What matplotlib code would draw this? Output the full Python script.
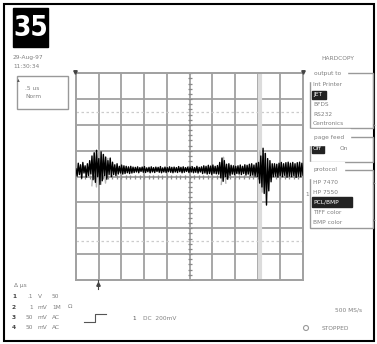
import matplotlib.pyplot as plt
import matplotlib.patches as patches
import numpy as np

# trace values in divisions (screen centre = 0), 200 samples across 10 div
trace_v = [0.30, 0.02, 0.52, 0.08, 0.46, -0.06, 0.55, 0.14, 0.42, -0.02, 0.50, 0.04, 0.62, 0.10,
           0.80, -0.12, 0.92, -0.22, 1.02, 0.00, 0.70, -0.30, 0.96, -0.16, 0.86, 0.04, 0.76, -0.10,
           0.62, 0.08, 0.72, 0.00, 0.56,
           0.08, 0.46, 0.04, 0.50, 0.10, 0.40, 0.14, 0.45, 0.10, 0.42, 0.12, 0.40, 0.15, 0.38, 0.12,
           0.40, 0.14, 0.37,
           0.16, 0.36, 0.18, 0.38, 0.15, 0.35, 0.20, 0.37, 0.17, 0.39, 0.16, 0.34, 0.19, 0.36, 0.15, 0.38,
           0.18, 0.35, 0.16, 0.37, 0.20, 0.36, 0.17, 0.39, 0.15, 0.34, 0.18, 0.37, 0.16, 0.35, 0.19, 0.38,
           0.17, 0.36, 0.15, 0.37, 0.18, 0.35, 0.16, 0.39, 0.19, 0.36, 0.15, 0.38, 0.17, 0.35, 0.20, 0.37,
           0.16, 0.36, 0.18, 0.38, 0.15, 0.35, 0.17, 0.40, 0.14, 0.36, 0.18, 0.38, 0.12, 0.42, 0.14, 0.40,
           0.10, 0.44, 0.12, 0.41, 0.09, 0.45, 0.13, 0.40, 0.11, 0.43, 0.10,
           0.55, -0.05, 0.72, -0.18, 0.62, 0.00, 0.48, -0.10, 0.50, 0.05, 0.44, 0.10, 0.42, 0.08, 0.40,
           0.12, 0.42, 0.10, 0.45, 0.08, 0.40, 0.12, 0.46, 0.06, 0.44, 0.10, 0.48, 0.04, 0.50, 0.06,
           0.45, 0.02, 0.52, 0.00, 0.55,
           -0.25, 0.80, -0.40, 1.10, -0.65, 0.90, -1.10, 0.70, -0.55, 0.62, -0.20, 0.50,
           0.00, 0.50, 0.02, 0.48, -0.02, 0.52, 0.04, 0.55, 0.00, 0.50, 0.05, 0.54, -0.02, 0.56,
           0.02, 0.52, 0.00, 0.55, 0.04, 0.50, -0.03, 0.54, 0.02, 0.56, 0.00, 0.52, 0.06]
trace_t = np.linspace(0, 10, len(trace_v))

# lighter overlapping trace in the bursts (None = gap between bursts)
ghost_t = [0.7, 0.8, 0.9, 1.0, 1.1, 1.2, 1.3, 1.4, None, 6.4, 6.5, 6.6, None, 8.1, 8.2, 8.3, 8.4]
ghost_v = [-0.35, 0.95, -0.40, 1.05, -0.30, 0.85, -0.25, 0.70, None, -0.30, 0.75, -0.25, None,
           1.00, -0.60, 0.90, -0.45]

cursor_x = 8.1
ref_levels = [2.5, -2.5]

out_to = ['Int Printer', 'JET', 'BFDS', 'RS232', 'Centronics']
protocol = ['HP 7470', 'HP 7550', 'PCL/BMP', 'TIFF color', 'BMP color']
chan_rows = [['1', '.1', 'V', '50'], ['2', '1', 'mV', '1M'], ['3', '50', 'mV', 'AC'], ['4', '50', 'mV', 'AC']]

W, H = 377, 344
fig = plt.figure(figsize=(W / 100, H / 100), dpi=100)

# scope screen
ax = fig.add_axes([76 / W, 1 - 280 / H, 227 / W, 206.7 / H])
ax.set_xlim(0, 10)
ax.set_ylim(-4, 4)
ax.set_xticks([])
ax.set_yticks([])
grid_c = '#a0a0a0'
for s in ax.spines.values():
    s.set_color(grid_c)
    s.set_linewidth(1.4)
for k in range(1, 10):
    ax.axvline(k, color=grid_c, lw=1.3, zorder=1)
for k in range(-3, 4):
    ax.axhline(k, color=grid_c, lw=1.3, zorder=1)
for lv in ref_levels:
    ax.axhline(lv, color='#cccccc', lw=0.9, ls=(0, (2, 2)), zorder=1)
ax.axvline(cursor_x, color='#dcdcdc', lw=3, zorder=1)
ticks = np.arange(-4, 4.01, 0.2)
ax.plot([5] * len(ticks), ticks, ls='none', marker='_', ms=3.5, color='#888888', mew=0.9)
ax.plot(np.arange(0, 10.01, 0.2), [0] * 51, ls='none', marker='|', ms=3.5, color='#888888', mew=0.9)
ghost_tf = np.array(ghost_t, dtype=float)
ghost_vf = np.array(ghost_v, dtype=float)
ax.plot(ghost_tf, ghost_vf, color='#b5b5b5', lw=1.0, zorder=2)
ax.plot(trace_t, trace_v, color='black', lw=1.0, zorder=3)

# overlay for all the annotations, in pixel units
ov = fig.add_axes([0, 0, 1, 1], facecolor='none')
ov.set_xlim(0, W)
ov.set_ylim(H, 0)
ov.axis('off')
ov.add_patch(patches.Rectangle((3.5, 3.5), W - 7, H - 7, fill=False, ec='black', lw=1.5))
ov.add_patch(patches.Rectangle((13, 8), 35, 39, color='black'))
ov.text(30.5, 28, '35', color='white', fontsize=20, fontweight='bold', ha='center', va='center',
        family='DejaVu Sans', fontstretch='condensed')

tc = '#808080'
fs = 4.2
ov.text(13, 57, '29-Aug-97', color=tc, fontsize=fs, va='center')
ov.text(13, 66, '11:30:34', color=tc, fontsize=fs, va='center')
ov.add_patch(patches.Rectangle((17, 76), 51, 33, fill=False, ec='#999999', lw=1.0))
ov.text(17, 77, '\u25b4', color='#555555', fontsize=4, va='top')
ov.text(25, 88, '.5 us', color=tc, fontsize=fs, va='center')
ov.text(25, 97, 'Norm', color=tc, fontsize=fs, va='center')

# markers around the screen
ov.plot([75, 303], [72, 72], ls='none', marker='v', ms=2.5, color='#444444')
ov.plot([98], [284], ls='none', marker='^', ms=2.5, color='#444444')
ov.plot([98, 98], [280, 289], color='#444444', lw=0.8)
ov.text(305, 195, '1', color=tc, fontsize=fs, va='center')

# right panel
ov.text(338, 58, 'HARDCOPY', color=tc, fontsize=fs, ha='center', va='center')
def menu_box(y0, y1, title):
    ov.add_patch(patches.Rectangle((310, y0), 63, y1 - y0, fill=False, ec='#999999', lw=1.0))
    ov.text(314, y0, title, color=tc, fontsize=fs, va='center', backgroundcolor='white')

menu_box(73, 128, 'output to')
for i, s in enumerate(out_to):
    y = 85 + i * 9.7
    if i == 1:
        ov.add_patch(patches.Rectangle((312, y - 4), 14, 8, color='#222222'))
        ov.text(313, y, s, color='white', fontsize=fs, va='center')
    else:
        ov.text(313, y, s, color=tc, fontsize=fs, va='center')
menu_box(137, 162, 'page feed')
ov.add_patch(patches.Rectangle((312, 144), 12, 9, color='#222222'))
ov.text(313, 148.5, 'Off', color='white', fontsize=fs, va='center')
ov.text(340, 148.5, 'On', color=tc, fontsize=fs, va='center')
menu_box(170, 228, 'protocol')
for i, s in enumerate(protocol):
    y = 182 + i * 10
    if i == 2:
        ov.add_patch(patches.Rectangle((312, y - 5), 40, 10, color='#222222'))
        ov.text(313, y, s, color='white', fontsize=fs, va='center')
    else:
        ov.text(313, y, s, color=tc, fontsize=fs, va='center')
for y in [125, 183, 220]:
    ov.text(373, y, '\u25b8', color='#777777', fontsize=4, va='center')

# bottom left channel info
ov.text(14, 285, '\u0394 \u03bcs', color=tc, fontsize=fs, va='center')
for i, row in enumerate(chan_rows):
    y = 297 + i * 10.3
    ov.text(12, y, row[0], color='#444444', fontsize=fs, fontweight='bold', va='center')
    ov.text(33, y, row[1], color=tc, fontsize=fs, va='center', ha='right')
    ov.text(38, y, row[2], color=tc, fontsize=fs, va='center')
    ov.text(52, y, row[3], color=tc, fontsize=fs, va='center')
ov.text(68, 307, '\u03a9', color=tc, fontsize=fs, va='center')

# trigger symbol and settings
ov.plot([84, 95, 95, 106], [322, 322, 314, 314], color='#555555', lw=0.8)
ov.text(132, 318, '1', color='#555555', fontsize=fs, va='center')
ov.text(143, 318, 'DC  200mV', color=tc, fontsize=fs, va='center')

# bottom right
ov.text(362, 310, '500 MS/s', color=tc, fontsize=fs, va='center', ha='right')
ov.add_patch(patches.Circle((306, 328), 2.5, fill=False, ec='#999999', lw=0.8))
ov.text(322, 328, 'STOPPED', color=tc, fontsize=fs, va='center')

fig.savefig('out.png', dpi=100)
